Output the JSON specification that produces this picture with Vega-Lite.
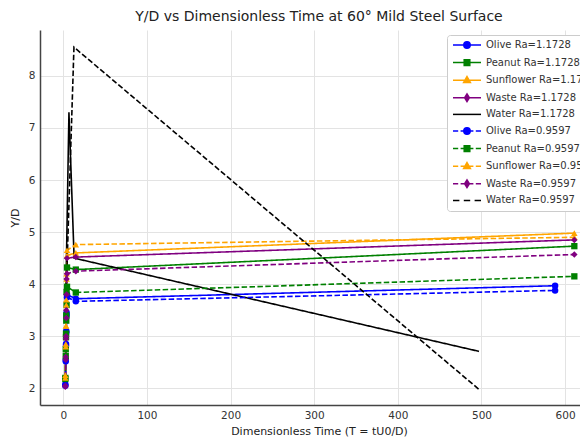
{
  "$schema": "https://vega.github.io/schema/vega-lite/v6.json",
  "autosize": "none",
  "padding": {"left": 40, "top": 30, "right": 10, "bottom": 40},
  "width": 558,
  "height": 375,
  "background": "white",
  "title": {"text": "Y/D vs Dimensionless Time at 60° Mild Steel Surface", "font": "DejaVu Sans", "fontSize": 14, "fontWeight": "normal", "color": "#222222", "anchor": "middle", "frame": "group", "offset": 6},
  "config": {
    "view": {"stroke": null},
    "axis": {"labelFont": "DejaVu Sans", "titleFont": "DejaVu Sans", "labelFontSize": 10.5, "titleFontSize": 11, "titleFontWeight": "normal", "labelColor": "#333333", "titleColor": "#222222", "gridColor": "#e3e3e3", "gridWidth": 1, "domainColor": "#444444", "domainWidth": 1.5, "ticks": false, "labelPadding": 5},
    "legend": {"orient": "none", "legendX": 407, "legendY": 5, "padding": 5, "fillColor": "white", "strokeColor": "#cccccc", "cornerRadius": 3, "labelFont": "DejaVu Sans", "labelFontSize": 10, "labelColor": "#333333", "symbolSize": 64, "symbolStrokeWidth": 1.5, "labelOffset": 24, "rowPadding": 4.6, "labelLimit": 200, "symbolOpacity": 1}
  },
  "data": {"values": [
    {"series": "Olive Ra=1.1728", "fluid": "Olive", "Ra": "1.1728", "T": 2.5, "Y": 2.05},
    {"series": "Olive Ra=1.1728", "fluid": "Olive", "Ra": "1.1728", "T": 3.0, "Y": 2.52},
    {"series": "Olive Ra=1.1728", "fluid": "Olive", "Ra": "1.1728", "T": 3.3, "Y": 2.82},
    {"series": "Olive Ra=1.1728", "fluid": "Olive", "Ra": "1.1728", "T": 3.6, "Y": 3.07},
    {"series": "Olive Ra=1.1728", "fluid": "Olive", "Ra": "1.1728", "T": 4.0, "Y": 3.45},
    {"series": "Olive Ra=1.1728", "fluid": "Olive", "Ra": "1.1728", "T": 4.5, "Y": 3.8},
    {"series": "Olive Ra=1.1728", "fluid": "Olive", "Ra": "1.1728", "T": 15, "Y": 3.72},
    {"series": "Olive Ra=1.1728", "fluid": "Olive", "Ra": "1.1728", "T": 588, "Y": 3.97},
    {"series": "Peanut Ra=1.1728", "fluid": "Peanut", "Ra": "1.1728", "T": 2.5, "Y": 2.2},
    {"series": "Peanut Ra=1.1728", "fluid": "Peanut", "Ra": "1.1728", "T": 3.0, "Y": 2.75},
    {"series": "Peanut Ra=1.1728", "fluid": "Peanut", "Ra": "1.1728", "T": 3.3, "Y": 3.05},
    {"series": "Peanut Ra=1.1728", "fluid": "Peanut", "Ra": "1.1728", "T": 3.6, "Y": 3.4},
    {"series": "Peanut Ra=1.1728", "fluid": "Peanut", "Ra": "1.1728", "T": 4.0, "Y": 3.85},
    {"series": "Peanut Ra=1.1728", "fluid": "Peanut", "Ra": "1.1728", "T": 4.5, "Y": 4.32},
    {"series": "Peanut Ra=1.1728", "fluid": "Peanut", "Ra": "1.1728", "T": 15, "Y": 4.28},
    {"series": "Peanut Ra=1.1728", "fluid": "Peanut", "Ra": "1.1728", "T": 611, "Y": 4.73},
    {"series": "Sunflower Ra=1.1728", "fluid": "Sunflower", "Ra": "1.1728", "T": 2.5, "Y": 2.25},
    {"series": "Sunflower Ra=1.1728", "fluid": "Sunflower", "Ra": "1.1728", "T": 3.0, "Y": 2.85},
    {"series": "Sunflower Ra=1.1728", "fluid": "Sunflower", "Ra": "1.1728", "T": 3.3, "Y": 3.2},
    {"series": "Sunflower Ra=1.1728", "fluid": "Sunflower", "Ra": "1.1728", "T": 3.6, "Y": 3.6},
    {"series": "Sunflower Ra=1.1728", "fluid": "Sunflower", "Ra": "1.1728", "T": 4.0, "Y": 4.1},
    {"series": "Sunflower Ra=1.1728", "fluid": "Sunflower", "Ra": "1.1728", "T": 4.5, "Y": 4.55},
    {"series": "Sunflower Ra=1.1728", "fluid": "Sunflower", "Ra": "1.1728", "T": 15, "Y": 4.6},
    {"series": "Sunflower Ra=1.1728", "fluid": "Sunflower", "Ra": "1.1728", "T": 611, "Y": 4.98},
    {"series": "Waste Ra=1.1728", "fluid": "Waste", "Ra": "1.1728", "T": 2.5, "Y": 2.03},
    {"series": "Waste Ra=1.1728", "fluid": "Waste", "Ra": "1.1728", "T": 3.0, "Y": 2.6},
    {"series": "Waste Ra=1.1728", "fluid": "Waste", "Ra": "1.1728", "T": 3.3, "Y": 3.0},
    {"series": "Waste Ra=1.1728", "fluid": "Waste", "Ra": "1.1728", "T": 3.6, "Y": 3.5},
    {"series": "Waste Ra=1.1728", "fluid": "Waste", "Ra": "1.1728", "T": 4.0, "Y": 4.1},
    {"series": "Waste Ra=1.1728", "fluid": "Waste", "Ra": "1.1728", "T": 4.5, "Y": 4.5},
    {"series": "Waste Ra=1.1728", "fluid": "Waste", "Ra": "1.1728", "T": 15, "Y": 4.52},
    {"series": "Waste Ra=1.1728", "fluid": "Waste", "Ra": "1.1728", "T": 611, "Y": 4.85},
    {"series": "Water Ra=1.1728", "fluid": "Water", "Ra": "1.1728", "T": 3.2, "Y": 3.9},
    {"series": "Water Ra=1.1728", "fluid": "Water", "Ra": "1.1728", "T": 6.8, "Y": 7.3},
    {"series": "Water Ra=1.1728", "fluid": "Water", "Ra": "1.1728", "T": 13, "Y": 4.5},
    {"series": "Water Ra=1.1728", "fluid": "Water", "Ra": "1.1728", "T": 497, "Y": 2.71},
    {"series": "Olive Ra=0.9597", "fluid": "Olive", "Ra": "0.9597", "T": 2.5, "Y": 2.08},
    {"series": "Olive Ra=0.9597", "fluid": "Olive", "Ra": "0.9597", "T": 3.0, "Y": 2.55},
    {"series": "Olive Ra=0.9597", "fluid": "Olive", "Ra": "0.9597", "T": 3.3, "Y": 2.85},
    {"series": "Olive Ra=0.9597", "fluid": "Olive", "Ra": "0.9597", "T": 3.6, "Y": 3.1},
    {"series": "Olive Ra=0.9597", "fluid": "Olive", "Ra": "0.9597", "T": 4.0, "Y": 3.4},
    {"series": "Olive Ra=0.9597", "fluid": "Olive", "Ra": "0.9597", "T": 4.5, "Y": 3.75},
    {"series": "Olive Ra=0.9597", "fluid": "Olive", "Ra": "0.9597", "T": 15, "Y": 3.67},
    {"series": "Olive Ra=0.9597", "fluid": "Olive", "Ra": "0.9597", "T": 588, "Y": 3.88},
    {"series": "Peanut Ra=0.9597", "fluid": "Peanut", "Ra": "0.9597", "T": 2.5, "Y": 2.18},
    {"series": "Peanut Ra=0.9597", "fluid": "Peanut", "Ra": "0.9597", "T": 3.0, "Y": 2.62},
    {"series": "Peanut Ra=0.9597", "fluid": "Peanut", "Ra": "0.9597", "T": 3.3, "Y": 2.98},
    {"series": "Peanut Ra=0.9597", "fluid": "Peanut", "Ra": "0.9597", "T": 3.6, "Y": 3.3},
    {"series": "Peanut Ra=0.9597", "fluid": "Peanut", "Ra": "0.9597", "T": 4.0, "Y": 3.6},
    {"series": "Peanut Ra=0.9597", "fluid": "Peanut", "Ra": "0.9597", "T": 4.5, "Y": 3.95},
    {"series": "Peanut Ra=0.9597", "fluid": "Peanut", "Ra": "0.9597", "T": 15, "Y": 3.84},
    {"series": "Peanut Ra=0.9597", "fluid": "Peanut", "Ra": "0.9597", "T": 611, "Y": 4.15},
    {"series": "Sunflower Ra=0.9597", "fluid": "Sunflower", "Ra": "0.9597", "T": 2.5, "Y": 2.2},
    {"series": "Sunflower Ra=0.9597", "fluid": "Sunflower", "Ra": "0.9597", "T": 3.0, "Y": 2.8},
    {"series": "Sunflower Ra=0.9597", "fluid": "Sunflower", "Ra": "0.9597", "T": 3.3, "Y": 3.2},
    {"series": "Sunflower Ra=0.9597", "fluid": "Sunflower", "Ra": "0.9597", "T": 3.6, "Y": 3.7},
    {"series": "Sunflower Ra=0.9597", "fluid": "Sunflower", "Ra": "0.9597", "T": 4.0, "Y": 4.2},
    {"series": "Sunflower Ra=0.9597", "fluid": "Sunflower", "Ra": "0.9597", "T": 4.5, "Y": 4.65},
    {"series": "Sunflower Ra=0.9597", "fluid": "Sunflower", "Ra": "0.9597", "T": 15, "Y": 4.76},
    {"series": "Sunflower Ra=0.9597", "fluid": "Sunflower", "Ra": "0.9597", "T": 611, "Y": 4.9},
    {"series": "Waste Ra=0.9597", "fluid": "Waste", "Ra": "0.9597", "T": 2.5, "Y": 2.05},
    {"series": "Waste Ra=0.9597", "fluid": "Waste", "Ra": "0.9597", "T": 3.0, "Y": 2.55},
    {"series": "Waste Ra=0.9597", "fluid": "Waste", "Ra": "0.9597", "T": 3.3, "Y": 2.95},
    {"series": "Waste Ra=0.9597", "fluid": "Waste", "Ra": "0.9597", "T": 3.6, "Y": 3.35},
    {"series": "Waste Ra=0.9597", "fluid": "Waste", "Ra": "0.9597", "T": 4.0, "Y": 3.8},
    {"series": "Waste Ra=0.9597", "fluid": "Waste", "Ra": "0.9597", "T": 4.5, "Y": 4.2},
    {"series": "Waste Ra=0.9597", "fluid": "Waste", "Ra": "0.9597", "T": 15, "Y": 4.25},
    {"series": "Waste Ra=0.9597", "fluid": "Waste", "Ra": "0.9597", "T": 611, "Y": 4.57},
    {"series": "Water Ra=0.9597", "fluid": "Water", "Ra": "0.9597", "T": 3.0, "Y": 3.6},
    {"series": "Water Ra=0.9597", "fluid": "Water", "Ra": "0.9597", "T": 12.8, "Y": 8.55},
    {"series": "Water Ra=0.9597", "fluid": "Water", "Ra": "0.9597", "T": 497, "Y": 1.98}
  ]},
  "encoding": {
    "x": {"field": "T", "type": "quantitative", "title": "Dimensionless Time (T = tU0/D)", "scale": {"domain": [-27.8, 639.3], "nice": false, "zero": false}, "axis": {"values": [0, 100, 200, 300, 400, 500, 600], "titlePadding": 5}},
    "y": {"field": "Y", "type": "quantitative", "title": "Y/D", "scale": {"domain": [1.68, 8.88], "nice": false, "zero": false}, "axis": {"values": [2, 3, 4, 5, 6, 7, 8], "titlePadding": 8}}
  },
  "layer": [
    {
      "mark": {"type": "line", "strokeWidth": 1.6, "clip": true},
      "encoding": {
        "color": {"field": "series", "type": "nominal", "legend": null, "scale": {"domain": ["Olive Ra=0.9597", "Olive Ra=1.1728", "Peanut Ra=0.9597", "Peanut Ra=1.1728", "Sunflower Ra=0.9597", "Sunflower Ra=1.1728", "Waste Ra=0.9597", "Waste Ra=1.1728", "Water Ra=0.9597", "Water Ra=1.1728"], "range": ["#0000ff", "#0000ff", "#008000", "#008000", "#ffa500", "#ffa500", "#800080", "#800080", "#000000", "#000000"]}},
        "strokeDash": {"field": "Ra", "type": "nominal", "legend": null, "scale": {"domain": ["1.1728", "0.9597"], "range": [[1, 0], [5.5, 2.4]]}}
      }
    },
    {
      "transform": [{"filter": "datum.fluid === 'Olive'"}],
      "mark": {"type": "point", "filled": true, "size": 42, "opacity": 1, "shape": "circle", "clip": true},
      "encoding": {"color": {"field": "series", "type": "nominal", "legend": null}}
    },
    {
      "transform": [{"filter": "datum.fluid === 'Peanut'"}],
      "mark": {"type": "point", "filled": true, "size": 40, "opacity": 1, "shape": "square", "clip": true},
      "encoding": {"color": {"field": "series", "type": "nominal", "legend": null}}
    },
    {
      "transform": [{"filter": "datum.fluid === 'Sunflower'"}],
      "mark": {"type": "point", "filled": true, "size": 42, "opacity": 1, "shape": "triangle-up", "clip": true},
      "encoding": {"color": {"field": "series", "type": "nominal", "legend": null}}
    },
    {
      "transform": [{"filter": "datum.fluid === 'Waste'"}],
      "mark": {"type": "point", "filled": true, "size": 42, "opacity": 1, "shape": "diamond", "clip": true},
      "encoding": {"color": {"field": "series", "type": "nominal", "legend": null}}
    },
    {
      "mark": {"type": "point", "opacity": 0, "strokeWidth": 1.5},
      "encoding": {
        "fill": {"field": "series", "type": "nominal", "title": null, "legend": {"encode": {"symbols": {"update": {"opacity": {"value": 1}}}}}, "scale": {"domain": ["Olive Ra=1.1728", "Peanut Ra=1.1728", "Sunflower Ra=1.1728", "Waste Ra=1.1728", "Water Ra=1.1728", "Olive Ra=0.9597", "Peanut Ra=0.9597", "Sunflower Ra=0.9597", "Waste Ra=0.9597", "Water Ra=0.9597"], "range": ["#0000ff", "#008000", "#ffa500", "#800080", "#000000", "#0000ff", "#008000", "#ffa500", "#800080", "#000000"]}},
        "stroke": {"field": "series", "type": "nominal", "title": null, "legend": {"encode": {"symbols": {"update": {"opacity": {"value": 1}}}}}, "scale": {"domain": ["Olive Ra=1.1728", "Peanut Ra=1.1728", "Sunflower Ra=1.1728", "Waste Ra=1.1728", "Water Ra=1.1728", "Olive Ra=0.9597", "Peanut Ra=0.9597", "Sunflower Ra=0.9597", "Waste Ra=0.9597", "Water Ra=0.9597"], "range": ["#0000ff", "#008000", "#ffa500", "#800080", "#000000", "#0000ff", "#008000", "#ffa500", "#800080", "#000000"]}},
        "shape": {"field": "series", "type": "nominal", "title": null, "legend": {"encode": {"symbols": {"update": {"opacity": {"value": 1}}}}}, "scale": {"domain": ["Olive Ra=1.1728", "Peanut Ra=1.1728", "Sunflower Ra=1.1728", "Waste Ra=1.1728", "Water Ra=1.1728", "Olive Ra=0.9597", "Peanut Ra=0.9597", "Sunflower Ra=0.9597", "Waste Ra=0.9597", "Water Ra=0.9597"], "range": [
          "M-1,0H6M3.3,0A0.8,0.8 0 1 1 1.7,0A0.8,0.8 0 1 1 3.3,0Z",
          "M-1,0H6M1.8,-0.7H3.2V0.7H1.8Z",
          "M-1,0H6M2.5,-0.9L3.35,0.6H1.65Z",
          "M-1,0H6M2.5,-0.95L3.1,0L2.5,0.95L1.9,0Z",
          "M-1,0H6",
          "M-1,0H0.3M0.9,0H4.1M4.7,0H6M3.3,0A0.8,0.8 0 1 1 1.7,0A0.8,0.8 0 1 1 3.3,0Z",
          "M-1,0H0.3M0.9,0H4.1M4.7,0H6M1.8,-0.7H3.2V0.7H1.8Z",
          "M-1,0H0.3M0.9,0H4.1M4.7,0H6M2.5,-0.9L3.35,0.6H1.65Z",
          "M-1,0H0.3M0.9,0H4.1M4.7,0H6M2.5,-0.95L3.1,0L2.5,0.95L1.9,0Z",
          "M-1,0H0.6M1.7,0H3.3M4.4,0H6"
        ]}}
      }
    }
  ]
}
